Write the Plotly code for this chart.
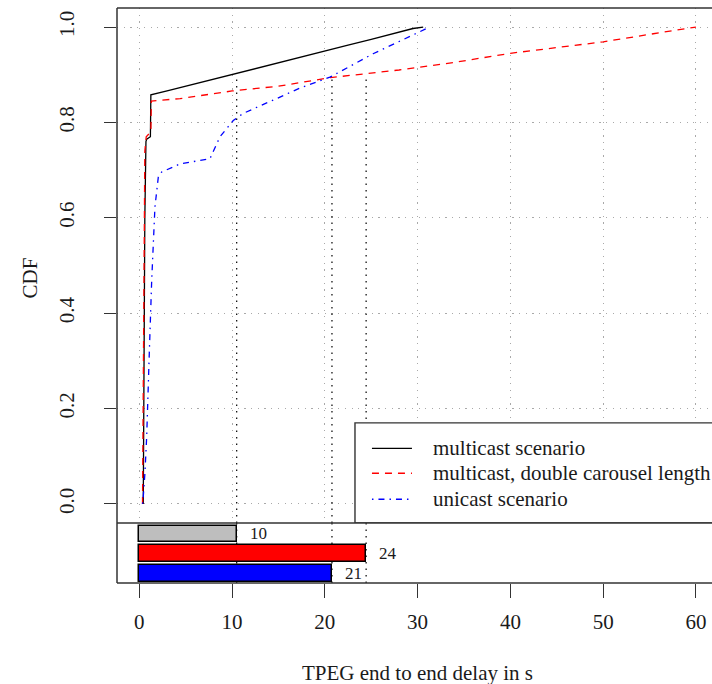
import plotly.graph_objects as go

# ---------------- data ----------------
multicast_x = [0.43, 0.5, 0.6, 0.72, 0.8, 1.2, 1.25, 3.0, 5.0, 7.5, 10.1, 12.5, 15.0, 17.5, 20.5, 22.5, 25.0, 27.5, 29.5, 30.6]
multicast_y = [0.0, 0.38, 0.6, 0.76, 0.765, 0.77, 0.858, 0.866, 0.876, 0.888, 0.901, 0.913, 0.925, 0.937, 0.952, 0.962, 0.974, 0.986, 0.997, 1.0]

double_x = [0.35, 0.45, 0.6, 0.75, 1.25, 1.3, 4.4, 10.0, 15.0, 20.6, 28.0, 34.0, 40.0, 45.0, 50.0, 55.4, 60.0]
double_y = [0.0, 0.4, 0.74, 0.77, 0.78, 0.845, 0.85, 0.866, 0.876, 0.894, 0.91, 0.926, 0.945, 0.957, 0.969, 0.986, 1.0]

unicast_x = [0.35, 0.43, 0.61, 0.8, 1.08, 1.34, 1.69, 2.05, 2.41, 4.39, 7.62, 8.7, 10.13, 11.2, 14.8, 17.3, 20.55, 25.2, 31.3]
unicast_y = [0.0, 0.015, 0.065, 0.141, 0.316, 0.469, 0.623, 0.685, 0.696, 0.713, 0.724, 0.77, 0.804, 0.819, 0.85, 0.872, 0.895, 0.944, 1.0]

series_names = ["multicast scenario", "multicast, double carousel length", "unicast scenario"]
series_colors = ["#000000", "#ff0000", "#0000ff"]

bar_values = [10.5, 24.45, 20.77]          # mean delays (gray, red, blue)
bar_labels = ["10", "24", "21"]
bar_rows = [3, 2, 1]
bar_colors = ["#bebebe", "#ff0000", "#0000ff"]

x_ticks = [0, 10, 20, 30, 40, 50, 60]
y_ticks = [0.0, 0.2, 0.4, 0.6, 0.8, 1.0]
y_ticklabels = ["0.0", "0.2", "0.4", "0.6", "0.8", "1.0"]

# ---------------- figure ----------------
FONT = "Liberation Serif, Times New Roman, serif"
TXT = "#1a1a1a"
FRAME = "#333333"
FS = 21
X_RANGE = [-2.4, 61.73]
Y_RANGE = [-0.04, 1.04]
Y2_RANGE = [0.534, 3.541]
SPLIT = 60 / 575

fig = go.Figure()

dashes = ["solid", "7px,6px", "1.5px,5px,6px,5px"]
for xs, ys, name, col, dsh in zip([multicast_x, double_x, unicast_x],
                                  [multicast_y, double_y, unicast_y],
                                  series_names, series_colors, dashes):
    fig.add_trace(go.Scatter(x=xs, y=ys, mode="lines", name=name,
                             line=dict(color=col, width=1.3, dash=dsh),
                             xaxis="x", yaxis="y", showlegend=False,
                             hoverinfo="skip"))

fig.add_trace(go.Bar(x=bar_values, y=bar_rows, orientation="h",
                     marker=dict(color=bar_colors, line=dict(color="black", width=1.5)),
                     width=0.83, xaxis="x2", yaxis="y2", showlegend=False,
                     hoverinfo="skip"))

shapes = []
# mean lines (black dotted), upper and lower panel
for v in bar_values:
    shapes.append(dict(type="line", xref="x", yref="y", x0=v, x1=v, y0=Y_RANGE[0], y1=0.893,
                       line=dict(color="black", width=1.2, dash="1.5px,5px"), layer="above"))
    shapes.append(dict(type="line", xref="x2", yref="y2", x0=v, x1=v, y0=Y2_RANGE[0], y1=Y2_RANGE[1],
                       line=dict(color="black", width=1.2, dash="1.5px,5px"), layer="below"))

# legend box
shapes.append(dict(type="rect", xref="x", yref="y", x0=23.25, x1=64, y0=Y_RANGE[0], y1=0.170,
                   fillcolor="white", line=dict(color=FRAME, width=1.4), layer="above"))
legend_y = [0.1166, 0.0643, 0.0098]
for ly, col, dsh in zip(legend_y, series_colors, dashes):
    shapes.append(dict(type="line", xref="x", yref="y", x0=25.08, x1=29.39, y0=ly, y1=ly,
                       line=dict(color=col, width=1.3, dash=dsh), layer="above"))

# frame (top, left, bottom, divider)
for s in [dict(x0=0, x1=1, y0=1, y1=1), dict(x0=0, x1=0, y0=0, y1=1),
          dict(x0=0, x1=1, y0=0, y1=0), dict(x0=0, x1=1, y0=SPLIT, y1=SPLIT)]:
    shapes.append(dict(type="line", xref="paper", yref="paper", line=dict(color=FRAME, width=1.5),
                       layer="above", **s))

annotations = []
for ly, name in zip(legend_y, series_names):
    annotations.append(dict(xref="x", yref="y", x=31.44, y=ly, text=name, showarrow=False,
                            xanchor="left", yanchor="middle", font=dict(size=FS, color=TXT, family=FONT)))
for v, r, lab in zip(bar_values, bar_rows, bar_labels):
    annotations.append(dict(xref="x2", yref="y2", x=v, y=r, text=lab, showarrow=False,
                            xanchor="left", yanchor="middle", xshift=11,
                            font=dict(size=17, color=TXT, family=FONT)))
annotations.append(dict(xref="paper", yref="paper", x=(417 - 117) / 595, y=(583 - 673) / 575,
                        text="TPEG end to end delay in s", showarrow=False,
                        xanchor="center", yanchor="middle", font=dict(size=FS, color=TXT, family=FONT)))
annotations.append(dict(xref="paper", yref="paper", x=(29.5 - 117) / 595, y=(583 - 278) / 575,
                        text="CDF", textangle=-90, showarrow=False,
                        xanchor="center", yanchor="middle", font=dict(size=FS, color=TXT, family=FONT)))

grid = dict(showgrid=True, gridcolor="#a9a9a9", gridwidth=1, griddash="1.2px,5.5px")

fig.update_layout(
    width=712, height=684,
    margin=dict(l=117, r=0, t=8, b=101, pad=0),
    paper_bgcolor="white", plot_bgcolor="white",
    font=dict(family=FONT, size=FS, color=TXT),
    bargap=0,
    xaxis=dict(domain=[0, 1], range=X_RANGE, anchor="y", tickvals=x_ticks, showticklabels=False,
               ticks="", zeroline=False, showline=False, **grid),
    yaxis=dict(domain=[SPLIT, 1], range=Y_RANGE, anchor="x", tickvals=y_ticks, ticktext=y_ticklabels,
               ticks="outside", ticklen=12, tickwidth=1.3, tickcolor=FRAME, tickangle=-90,
               ticklabelstandoff=22, tickfont=dict(size=FS, color=TXT, family=FONT),
               zeroline=False, showline=False, **grid),
    xaxis2=dict(domain=[0, 1], range=X_RANGE, anchor="y2", tickvals=x_ticks,
                ticktext=[str(t) for t in x_ticks], ticks="outside", ticklen=14, tickwidth=1.3,
                tickcolor=FRAME, ticklabelstandoff=6, tickfont=dict(size=FS, color=TXT, family=FONT),
                showgrid=False, zeroline=False, showline=False),
    yaxis2=dict(domain=[0, SPLIT], range=Y2_RANGE, anchor="x2", showticklabels=False, ticks="",
                showgrid=False, zeroline=False, showline=False),
    shapes=shapes, annotations=annotations,
)

fig.write_html("out.html")
